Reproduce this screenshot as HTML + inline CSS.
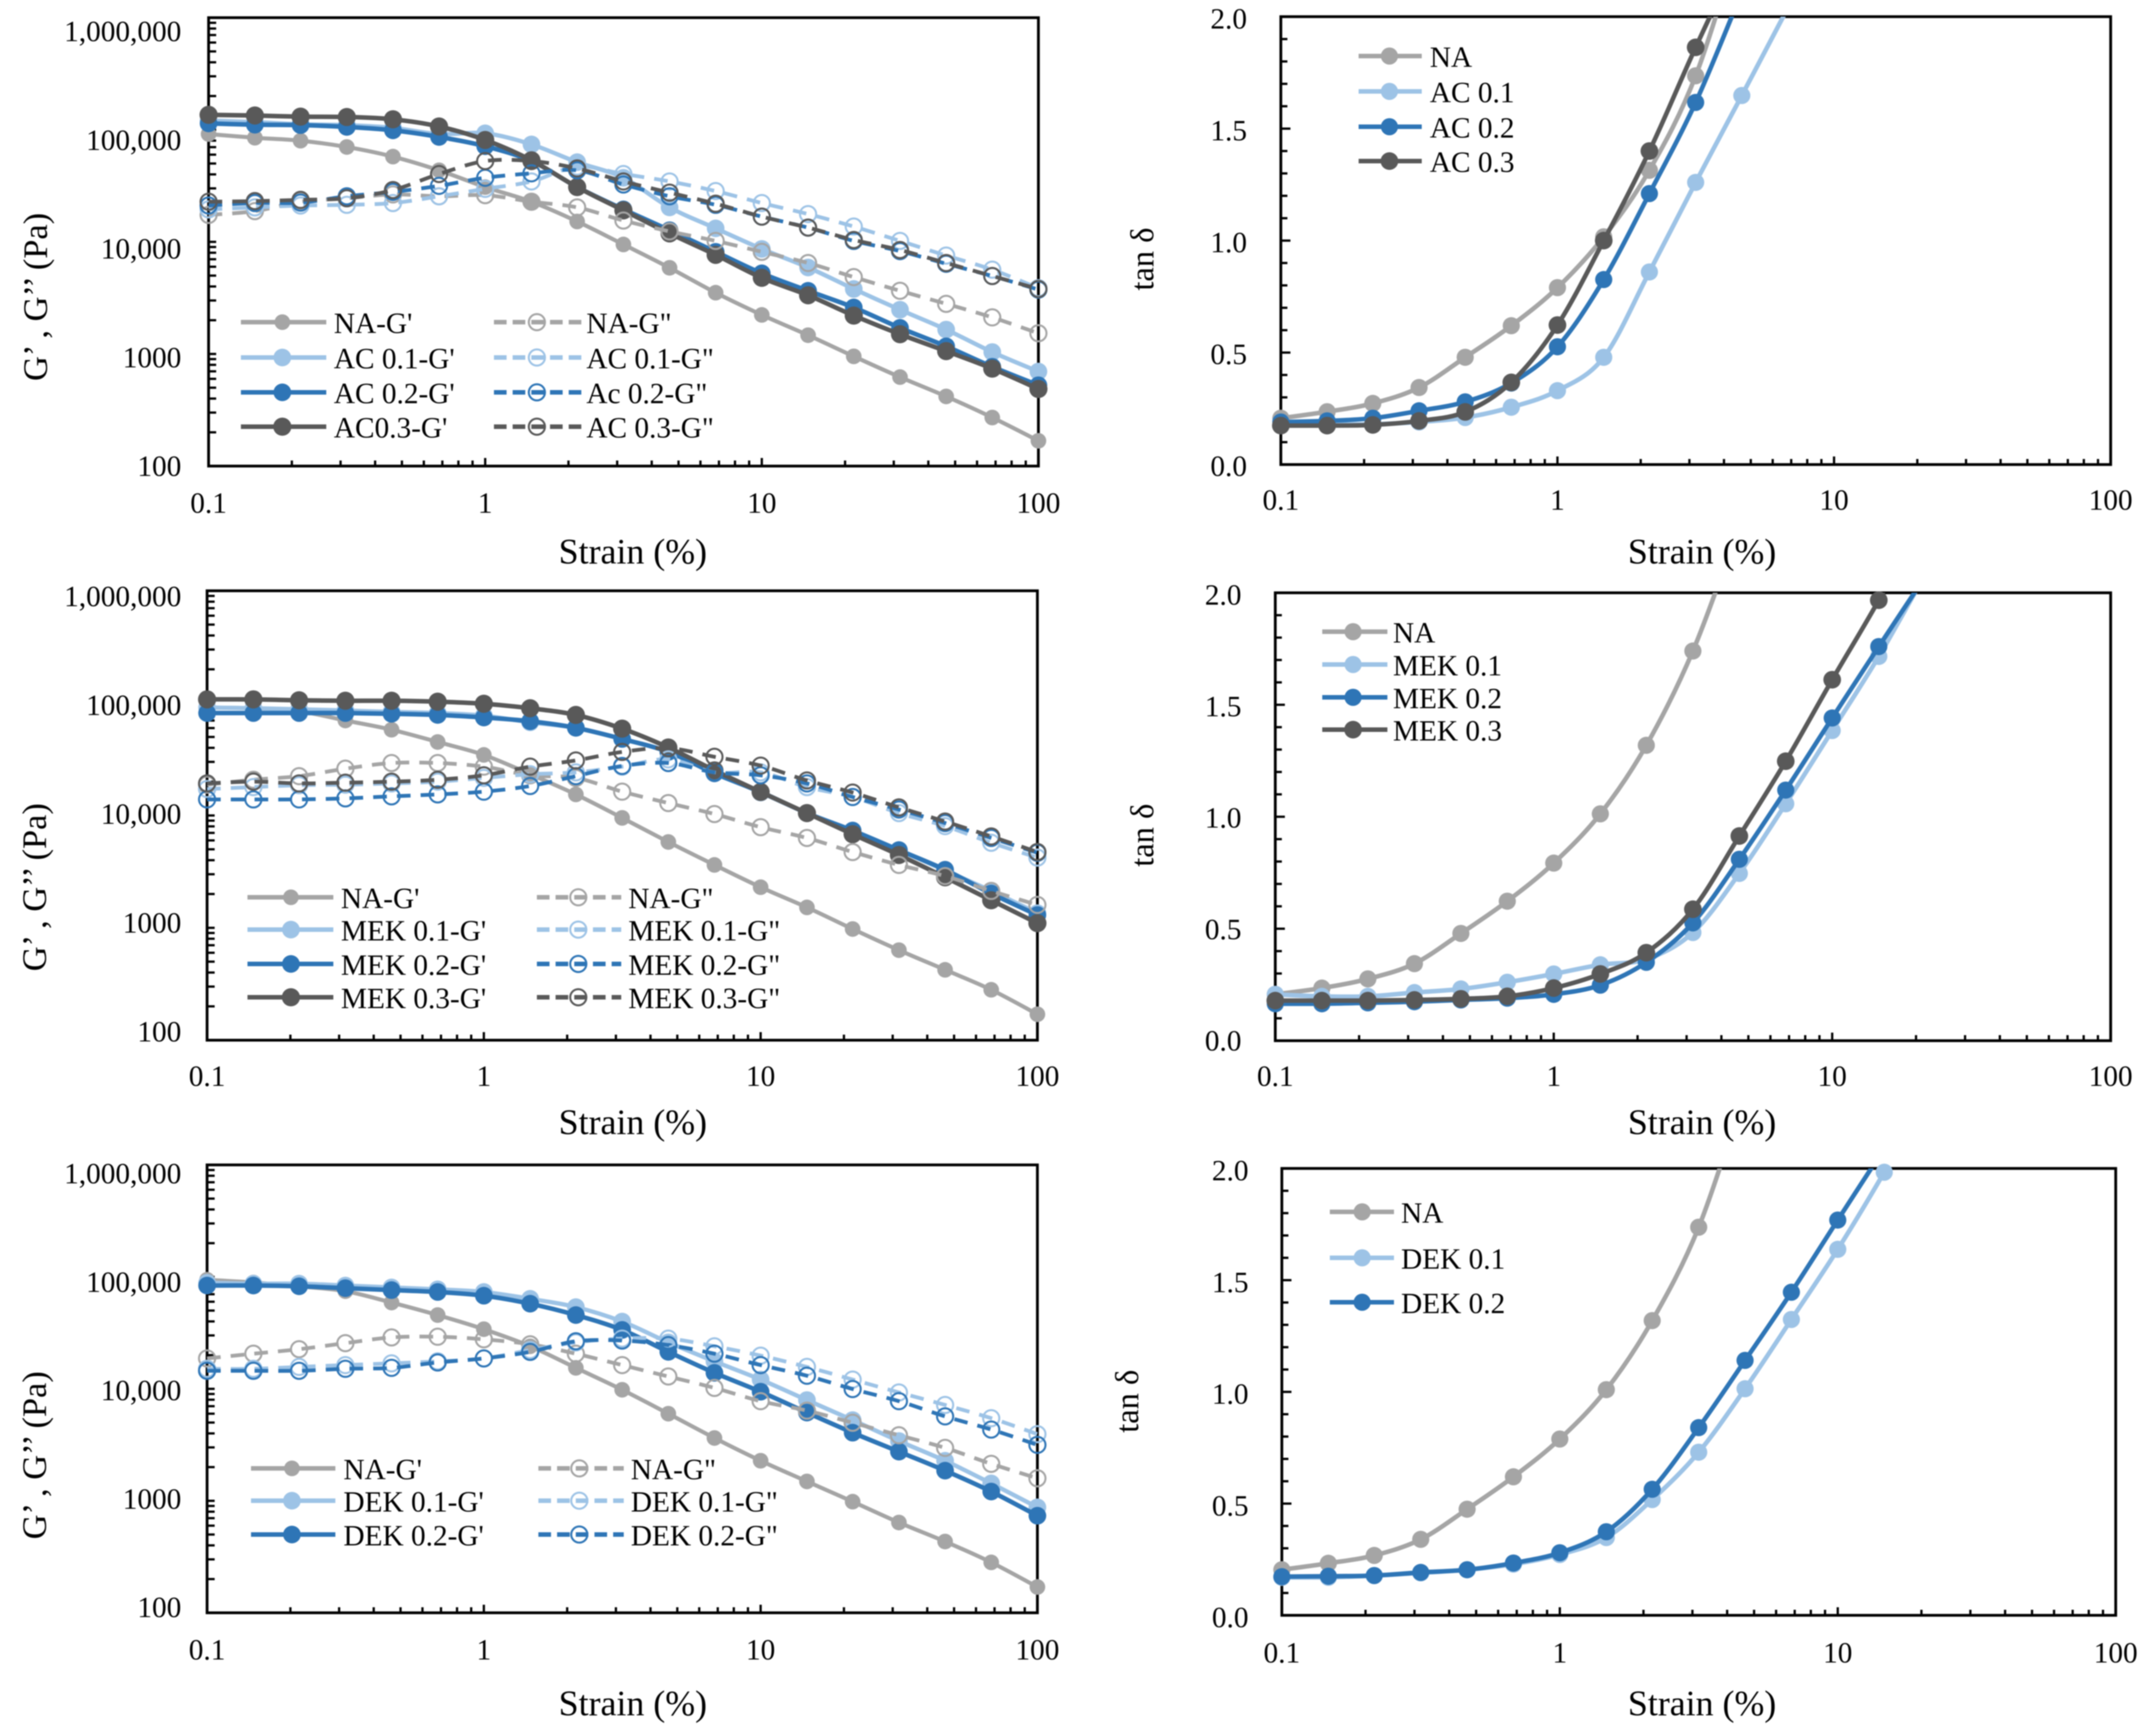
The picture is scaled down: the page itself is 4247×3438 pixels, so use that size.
<!DOCTYPE html>
<html lang="en">
<head>
<meta charset="utf-8">
<title>Strain sweep charts</title>
<style>
html,body{margin:0;padding:0;background:#fff}
svg{display:block;font-family:"Liberation Serif",serif;fill:#000;filter:blur(1px)}
</style>
</head>
<body>
<svg id="figure" xmlns="http://www.w3.org/2000/svg" width="4247" height="3438" viewBox="0 0 4247 3438">
<rect x="0" y="0" width="4247" height="3438" fill="#ffffff"/>
</svg>
<script>
// ---- shared categories and tick labels ----
const strainValues = [0.1,0.147,0.215,0.316,0.464,0.681,1,1.47,2.15,3.16,4.64,6.81,10,14.7,21.5,31.6,46.4,68.1,100];
const xTickValues = [0.1,1,10,100];
const xTickLabels = ['0.1','1','10','100'];
const modulusTickValues = [1000000,100000,10000,1000,100];
const modulusTickLabels = ['1,000,000','100,000','10,000','1000','100'];
const tanTickValues = [2,1.5,1,0.5,0];
const tanTickLabels = ['2.0','1.5','1.0','0.5','0.0'];

// ---- AC modulus panel ----
const acNaStorage = [91600,84900,79900,70200,57600,43500,30800,22800,15200,9480,5870,3520,2230,1470,952,622,418,271,168];
const ac1Storage = [121000,117000,112000,110000,104000,91600,93000,74000,51400,37300,20300,13200,8650,5910,3800,2480,1650,1040,697];
const ac2Storage = [114000,111000,110000,106000,98900,86300,71300,52600,30800,19500,12700,8150,5240,3660,2600,1710,1170,769,526];
const ac3Storage = [136000,134000,131000,130000,124000,107000,81100,53400,30800,19100,11900,7660,4780,3340,2200,1500,1060,740,487];
const acNaLoss = [17400,18800,22800,24500,26500,25500,26100,22800,20300,15500,12400,10200,8150,6480,4850,3660,2800,2120,1530];
const ac1Loss = [19500,20300,21100,21400,22200,25500,29700,34600,46900,40300,34600,28400,22200,17700,13700,10200,7550,5650,3860];
const ac2Loss = [21100,22200,22400,25500,27900,31600,37300,40900,43500,32500,25500,21400,16800,13400,10200,8270,6380,4960,3750];
const ac3Loss = [22800,23100,23700,24500,29000,40300,52600,52600,45200,34600,27500,21900,16800,13400,10400,8460,6480,4960,3800];

// ---- MEK modulus panel ----
const mekNaStorage = [91400,90100,84800,70100,58000,45100,34600,23300,15400,9520,5810,3630,2300,1520,976,633,423,281,170];
const mek1Storage = [91400,90100,88100,86000,83600,81600,77400,67500,60300,48000,36800,24200,16000,10500,7190,4920,3240,2130,1350];
const mek2Storage = [81600,81600,81600,81600,80400,78500,74500,69000,60300,48000,36800,23700,16200,10500,7350,4920,3290,2020,1300];
const mek3Storage = [108000,108000,106000,105000,105000,103000,98700,90100,78500,59300,40300,25200,16200,10500,6810,4450,2820,1760,1100];
const mekNaLoss = [18800,20800,22400,26100,29300,29300,27200,22800,21600,16300,12900,10300,7870,6310,4730,3630,2890,2130,1600];
const mek1Loss = [17200,17900,18600,18800,19300,20000,21600,23300,24200,27200,31600,24200,24200,17900,14600,10500,8050,5720,4220];
const mek2Loss = [13900,13900,13900,14200,14800,15400,16300,18300,22400,27600,29300,24200,22800,19300,14600,11300,8560,6310,4660];
const mek3Loss = [19300,20000,19300,19600,20000,20800,22800,27200,30900,36800,39700,33300,27800,20500,16000,11800,8830,6510,4730];

// ---- DEK modulus panel ----
const dekNaStorage = [94200,89100,82400,74500,59000,45600,34100,24000,15400,9810,6000,3640,2280,1490,983,640,433,282,170];
const dek1Storage = [88500,87000,87000,83700,80500,77400,73300,63700,53700,39900,26000,17600,12100,7940,5260,3420,2280,1430,875];
const dek2Storage = [83700,83700,82400,79300,76200,73300,67900,57600,45600,33600,21400,13900,9430,6140,4060,2750,1860,1210,736];
const dekNaLoss = [18700,20600,22600,25600,28800,29200,27700,25000,20600,16300,12900,10200,7760,6390,4980,3850,2970,2140,1590];
const dek1Loss = [15100,15100,15700,16300,16900,17600,18700,22200,26000,28100,28100,24000,19800,15700,12100,9290,7180,5470,3940];
const dek2Loss = [14500,14500,14500,15100,15400,17200,18700,21400,26600,27000,24600,20600,16300,13100,9960,7760,5680,4330,3160];

// ---- tan delta panels (last value in each array lies above the axis maximum) ----
const acNaTan = [0.207,0.236,0.273,0.344,0.479,0.62,0.79,1.017,1.314,1.736,2.38];
const ac1Tan = [0.19,0.18,0.18,0.19,0.21,0.256,0.33,0.479,0.86,1.26,1.648,2.04];
const ac2Tan = [0.19,0.195,0.207,0.24,0.28,0.364,0.526,0.826,1.21,1.617,2.11];
const ac3Tan = [0.174,0.174,0.177,0.195,0.235,0.367,0.623,1.0,1.4,1.863,2.3];
const mekNaTan = [0.207,0.235,0.276,0.344,0.479,0.623,0.793,1.013,1.319,1.74,2.3];
const mek1Tan = [0.207,0.198,0.198,0.215,0.231,0.261,0.298,0.339,0.364,0.483,0.747,1.058,1.385,1.716,2.08];
const mek2Tan = [0.165,0.165,0.169,0.174,0.182,0.19,0.207,0.248,0.35,0.526,0.81,1.119,1.441,1.76,2.07];
const mek3Tan = [0.179,0.179,0.179,0.182,0.187,0.198,0.235,0.298,0.393,0.587,0.914,1.248,1.612,1.967,2.35];
const dekNaTan = [0.204,0.233,0.268,0.34,0.475,0.62,0.789,1.01,1.319,1.737,2.35];
const dek1Tan = [0.17,0.17,0.178,0.19,0.204,0.229,0.272,0.348,0.518,0.73,1.014,1.324,1.638,1.983,2.35];
const dek2Tan = [0.173,0.175,0.178,0.192,0.204,0.234,0.28,0.374,0.564,0.84,1.141,1.446,1.769,2.09];

// ---- styling ----
const GREY = '#A5A5A5', LIGHT = '#9DC3E6', BLUE = '#2E75B6', DARK = '#595959';
const FONT = 58;

// ---- panel layouts ----
const panels = [
 {id:'ac-modulus', kind:'mod', left:413, right:2056, top:35, bottom:923, labelX:359, labelTop:62, labelBottom:923, xLabelY:996, titleX:1253, titleY:1093, yTitleX:70, yTitleY:588,
  legendCols:[{lineA:477,lineB:646,marker:559,text:661},{lineA:978,lineB:1151,marker:1063,text:1161}], legendRows:[638,708,777,845],
  series:[
   {name:"NA-G'",v:acNaStorage,c:GREY,r:15.5,w:8},{name:"AC 0.1-G'",v:ac1Storage,c:LIGHT,r:17.5,w:8.5},{name:"AC 0.2-G'",v:ac2Storage,c:BLUE,r:17.5,w:9},{name:"AC0.3-G'",v:ac3Storage,c:DARK,r:18,w:9},
   {name:'NA-G"',v:acNaLoss,c:GREY,open:1},{name:'AC 0.1-G"',v:ac1Loss,c:LIGHT,open:1},{name:'Ac 0.2-G"',v:ac2Loss,c:BLUE,open:1},{name:'AC 0.3-G"',v:ac3Loss,c:DARK,open:1}]},
 {id:'ac-tan', kind:'tan', left:2536, right:4179, top:33, bottom:920, labelX:2469, labelTop:37, labelBottom:923, xLabelY:990, titleX:3370, titleY:1093, yTitleX:2262, yTitleY:513,
  legendCols:[{lineA:2690,lineB:2815,marker:2751,text:2831}], legendRows:[111,181,251,319],
  series:[{name:'NA',v:acNaTan,c:GREY,r:17,w:9},{name:'AC 0.1',v:ac1Tan,c:LIGHT,r:17,w:9},{name:'AC 0.2',v:ac2Tan,c:BLUE,r:17,w:9},{name:'AC 0.3',v:ac3Tan,c:DARK,r:17.5,w:9}]},
 {id:'mek-modulus', kind:'mod', left:410, right:2054, top:1170, bottom:2060, labelX:359, labelTop:1181, labelBottom:2043, xLabelY:2131, titleX:1253, titleY:2223, yTitleX:68, yTitleY:1757,
  legendCols:[{lineA:490,lineB:660,marker:576,text:675},{lineA:1063,lineB:1230,marker:1145,text:1244}], legendRows:[1777,1841,1909,1975],
  series:[
   {name:"NA-G'",v:mekNaStorage,c:GREY,r:15.5,w:8},{name:"MEK 0.1-G'",v:mek1Storage,c:LIGHT,r:17.5,w:8.5},{name:"MEK 0.2-G'",v:mek2Storage,c:BLUE,r:17.5,w:9},{name:"MEK 0.3-G'",v:mek3Storage,c:DARK,r:18,w:9},
   {name:'NA-G"',v:mekNaLoss,c:GREY,open:1},{name:'MEK 0.1-G"',v:mek1Loss,c:LIGHT,open:1},{name:'MEK 0.2-G"',v:mek2Loss,c:BLUE,open:1},{name:'MEK 0.3-G"',v:mek3Loss,c:DARK,open:1}]},
 {id:'mek-tan', kind:'tan', left:2525, right:4179, top:1174, bottom:2061, labelX:2458, labelTop:1178, labelBottom:2061, xLabelY:2131, titleX:3370, titleY:2223, yTitleX:2262, yTitleY:1654,
  legendCols:[{lineA:2618,lineB:2747,marker:2679,text:2758}], legendRows:[1251,1316,1381,1445],
  series:[{name:'NA',v:mekNaTan,c:GREY,r:17,w:9},{name:'MEK 0.1',v:mek1Tan,c:LIGHT,r:17,w:9},{name:'MEK 0.2',v:mek2Tan,c:BLUE,r:17,w:9},{name:'MEK 0.3',v:mek3Tan,c:DARK,r:17.5,w:9}]},
 {id:'dek-modulus', kind:'mod', left:410, right:2054, top:2307, bottom:3194, labelX:359, labelTop:2324, labelBottom:3183, xLabelY:3267, titleX:1253, titleY:3374, yTitleX:68, yTitleY:2882,
  legendCols:[{lineA:497,lineB:664,marker:578,text:680},{lineA:1066,lineB:1235,marker:1147,text:1249}], legendRows:[2908,2972,3039],
  series:[
   {name:"NA-G'",v:dekNaStorage,c:GREY,r:15.5,w:8},{name:"DEK 0.1-G'",v:dek1Storage,c:LIGHT,r:17.5,w:8.5},{name:"DEK 0.2-G'",v:dek2Storage,c:BLUE,r:17.5,w:9},
   {name:'NA-G"',v:dekNaLoss,c:GREY,open:1},{name:'DEK 0.1-G"',v:dek1Loss,c:LIGHT,open:1},{name:'DEK 0.2-G"',v:dek2Loss,c:BLUE,open:1}]},
 {id:'dek-tan', kind:'tan', left:2538, right:4189, top:2314, bottom:3199, labelX:2472, labelTop:2318, labelBottom:3203, xLabelY:3273, titleX:3370, titleY:3374, yTitleX:2232, yTitleY:2775,
  legendCols:[{lineA:2633,lineB:2760,marker:2697,text:2774}], legendRows:[2400,2491,2579],
  series:[{name:'NA',v:dekNaTan,c:GREY,r:17,w:9},{name:'DEK 0.1',v:dek1Tan,c:LIGHT,r:17,w:9},{name:'DEK 0.2',v:dek2Tan,c:BLUE,r:17,w:9}]}
];

const NS = 'http://www.w3.org/2000/svg';
const root = document.getElementById('figure');
function make(tag, attrs, parent){
  const node = document.createElementNS(NS, tag);
  for (const k in attrs) node.setAttribute(k, attrs[k]);
  parent.appendChild(node);
  return node;
}
function slug(s){ return s.toLowerCase().replace(/"/g,'-loss').replace(/'/g,'-storage').replace(/[^a-z0-9]+/g,'-').replace(/-+$/,''); }
function smoothPath(points){
  let d = 'M' + points[0][0].toFixed(1) + ' ' + points[0][1].toFixed(1);
  for (let i = 0; i < points.length - 1; i++){
    const p0 = points[Math.max(i-1,0)], p1 = points[i], p2 = points[i+1], p3 = points[Math.min(i+2,points.length-1)];
    const c1x = p1[0] + (p2[0]-p0[0])/6, c1y = p1[1] + (p2[1]-p0[1])/6;
    const c2x = p2[0] - (p3[0]-p1[0])/6, c2y = p2[1] - (p3[1]-p1[1])/6;
    d += 'C' + c1x.toFixed(1) + ' ' + c1y.toFixed(1) + ' ' + c2x.toFixed(1) + ' ' + c2y.toFixed(1) + ' ' + p2[0].toFixed(1) + ' ' + p2[1].toFixed(1);
  }
  return d;
}

panels.forEach(function(p){
  const xScale = function(v){ return p.left + (Math.log10(v) + 1) / 3 * (p.right - p.left); };
  const yScale = p.kind === 'mod'
    ? function(v){ return p.bottom - (Math.log10(v) - 2) / 4 * (p.bottom - p.top); }
    : function(v){ return p.bottom - v / 2 * (p.bottom - p.top); };
  const yMaxValue = p.kind === 'mod' ? 1000000 : 2;

  const g = make('g', {}, root);
  
  

  const clipId = 'clip-' + p.id;
  const defs = make('defs', {}, g);
  const clip = make('clipPath', {id: clipId}, defs);
  make('rect', {x: p.left - 60, y: p.top, width: p.right - p.left + 120, height: p.bottom - p.top + 60}, clip);

  // frame
  const frame = make('rect', {x: p.left, y: p.top, width: p.right - p.left, height: p.bottom - p.top, fill: 'none', stroke: '#000', 'stroke-width': 5.5}, g);
  
  

  // x ticks (log minor)
  const xTicks = make('g', {stroke: '#000', 'stroke-width': 4.5}, g);
  
  
  for (let e = -1; e < 2; e++){
    for (let m = 1; m <= 9; m++){
      const tx = xScale(m * Math.pow(10, e));
      make('line', {x1: tx, x2: tx, y1: p.bottom, y2: p.bottom - (m === 1 ? 16 : 11)}, xTicks);
    }
  }

  // y ticks
  const yTicks = make('g', {stroke: '#000', 'stroke-width': 4.5}, g);
  
  
  if (p.kind === 'mod'){
    for (let e = 2; e < 6; e++){
      for (let m = 1; m <= 9; m++){
        const ty = yScale(m * Math.pow(10, e));
        make('line', {x1: p.left, x2: p.left + 15, y1: ty, y2: ty}, yTicks);
      }
    }
  } else {
    for (let t = 0; t < 20; t++){
      const ty = yScale(t / 10);
      make('line', {x1: p.left, x2: p.left + (t % 5 === 0 ? 19 : 13), y1: ty, y2: ty}, yTicks);
    }
  }

  // x tick labels
  xTickLabels.forEach(function(label, i){
    const t = make('text', {x: xScale(xTickValues[i]), y: p.xLabelY, 'text-anchor': 'middle', 'dominant-baseline': 'central', 'font-size': FONT}, g);
    t.textContent = label;
    
    
  });

  // y tick labels (printed slightly off the tick grid in the source figure)
  const yLabels = p.kind === 'mod' ? modulusTickLabels : tanTickLabels;
  yLabels.forEach(function(label, i){
    const ly = p.labelTop + (p.labelBottom - p.labelTop) * i / (yLabels.length - 1);
    const t = make('text', {x: p.labelX, y: ly, 'text-anchor': 'end', 'dominant-baseline': 'central', 'font-size': FONT}, g);
    t.textContent = label;
    
    
  });

  // axis titles
  const xTitle = make('text', {x: p.titleX, y: p.titleY, 'text-anchor': 'middle', 'dominant-baseline': 'central', 'font-size': 71}, g);
  xTitle.textContent = 'Strain (%)';
  
  

  const yTitleAttrs = {x: 0, y: 0, 'text-anchor': 'middle', 'dominant-baseline': 'central', 'font-size': p.kind === 'mod' ? 68 : 66, transform: 'translate(' + p.yTitleX + ' ' + p.yTitleY + ') rotate(-90)', textLength: p.kind === 'mod' ? 333 : 125, lengthAdjust: 'spacingAndGlyphs'};
  const yTitle = make('text', yTitleAttrs, g);
  yTitle.textContent = p.kind === 'mod' ? 'G’ , G’’ (Pa)' : 'tan δ';
  
  

  // series
  p.series.forEach(function(s){
    const sg = make('g', {}, g);
    
    
    const pts = s.v.map(function(v, i){ return [xScale(strainValues[i]), yScale(v)]; });
    const line = make('path', {
      d: smoothPath(pts), fill: 'none', stroke: s.c,
      'stroke-width': s.open ? 7.5 : s.w,
      'stroke-dasharray': s.open ? '27 20' : 'none',
      'clip-path': 'url(#' + clipId + ')'
    }, sg);
    
    
    s.v.forEach(function(v, i){
      if (v > yMaxValue) return;
      const dot = make('circle', {
        cx: xScale(strainValues[i]), cy: yScale(v),
        r: s.open ? 16 : s.r,
        fill: s.open ? 'none' : s.c,
        stroke: s.open ? s.c : 'none',
        'stroke-width': s.open ? 4 : 0
      }, sg);
      
      
    });
  });

  // legend
  const nCols = p.legendCols.length, nRows = p.legendRows.length;
  const lg = make('g', {}, g);
  
  
  p.series.forEach(function(s, i){
    const col = p.legendCols[Math.floor(i / nRows)] || p.legendCols[nCols - 1];
    const ly = p.legendRows[i % nRows];
    const entry = make('g', {}, lg);
    
    
    make('line', {x1: col.lineA, x2: col.lineB, y1: ly, y2: ly, stroke: s.c, 'stroke-width': 9, 'stroke-dasharray': s.open ? '25 12' : 'none'}, entry);
    make('circle', {cx: col.marker, cy: ly, r: s.open ? 16 : s.r, fill: 'none', stroke: s.open ? s.c : 'none', 'stroke-width': s.open ? 4 : 0}, entry);
    if (!s.open) make('circle', {cx: col.marker, cy: ly, r: s.r, fill: s.c}, entry);
    const t = make('text', {x: col.text, y: ly + 2, 'dominant-baseline': 'central', 'font-size': FONT}, entry);
    t.textContent = s.name;
  });
});
</script>
</body>
</html>
